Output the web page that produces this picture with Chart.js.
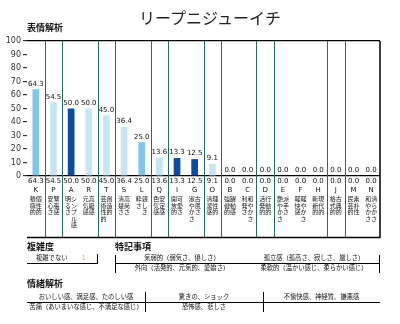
<!DOCTYPE html>
<html lang="ja">
<head>
<meta charset="utf-8">
<script src="https://cdn.jsdelivr.net/npm/chart.js@4.4.1/dist/chart.umd.min.js"></script>
<style>
  body { margin: 0; background: #fff; }
  #wrap { position: relative; width: 400px; height: 324px; overflow: hidden; font-family: "Noto Sans CJK JP", sans-serif; color: #111; }
  #chart { position: absolute; left: 0; top: 0; }
  .abs { position: absolute; white-space: nowrap; }
  .head { font-size: 9px; font-weight: bold; line-height: 12px; }
  .cell { position: absolute; text-align: center; font-size: 6.3px; line-height: 10px; white-space: nowrap; }
  .ln { position: absolute; background: #000; }
</style>
</head>
<body>
<div id="wrap">
  <canvas id="chart" width="400" height="324"></canvas>

  <div class="abs" style="left:120px;top:7px;width:180px;text-align:center;font-size:16px;line-height:20px;color:#222">リープニジューイチ</div>
  <div class="abs head" style="left:27px;top:22px">表情解析</div>

  <div class="abs head" style="left:27px;top:241px">複雑度</div>
  <div class="cell" style="left:36px;top:253px;text-align:left">複雑でない</div>
  <div class="cell" style="left:82px;top:253px;color:#e0a020">1</div>
  <div class="ln" style="left:27px;top:263px;width:71px;height:1px"></div>
  <div class="ln" style="left:97px;top:254px;width:1px;height:10px"></div>

  <div class="abs head" style="left:115px;top:241px">特記事項</div>
  <div class="ln" style="left:115px;top:255px;width:1px;height:18px"></div>
  <div class="ln" style="left:379px;top:255px;width:1px;height:18px"></div>
  <div class="ln" style="left:115px;top:263px;width:265px;height:1px"></div>
  <div class="cell" style="left:116px;top:253px;width:132px">気弱的（弱気さ、優しさ）</div>
  <div class="cell" style="left:248px;top:253px;width:132px">孤立感（孤高さ、寂しさ、厳しさ）</div>
  <div class="cell" style="left:116px;top:263px;width:132px">外向（活発的、元気的、愛嬌さ）</div>
  <div class="cell" style="left:248px;top:263px;width:132px">柔軟的（温かい感じ、柔らかい感じ）</div>

  <div class="abs head" style="left:27px;top:278px">情緒解析</div>
  <div class="ln" style="left:27px;top:302px;width:353px;height:1px"></div>
  <div class="ln" style="left:145px;top:292px;width:1px;height:20px"></div>
  <div class="ln" style="left:263px;top:292px;width:1px;height:20px"></div>
  <div class="cell" style="left:27px;top:292px;width:118px">おいしい感、満足感、たのしい感</div>
  <div class="cell" style="left:145px;top:292px;width:118px">驚きの、ショック</div>
  <div class="cell" style="left:263px;top:292px;width:117px">不愉快感、神経質、嫌悪感</div>
  <div class="cell" style="left:27px;top:302px;width:118px">苦痛（あいまいな感じ、不満足な感じ）</div>
  <div class="cell" style="left:145px;top:302px;width:118px">恐怖感、悲しさ</div>
</div>

<script>
// 表情解析 の値
const categories = ['K','P','A','R','T','S','L','Q','I','G','O','B','C','D','E','F','H','J','M','N'];
const scores = [64.3, 54.5, 50.0, 50.0, 45.0, 36.4, 25.0, 13.6, 13.3, 12.5, 9.1, 0, 0, 0, 0, 0, 0, 0, 0, 0];
const traits = [
  ['個性的', '積極的'], ['緊張感', '安心さ'], ['シンプル感', '明るさ'], ['高級感', '元気感'],
  ['創造的', '芸術性的'], ['高尚さ', '清楚さ'], ['親しさ', '粋さ'], ['安定感', '色気感'],
  ['可愛さ', '開放的'], ['古風さ', '淑やかさ'], ['理性的', '清潔感'], ['躍動感', '強健的'],
  ['和やかさ', '利発さ'], ['行動的', '活発的'], ['派手さ', '艶やかさ'], ['軽やかさ', '軽快感'],
  ['現代的', '斬新的'], ['古典的', '格式的'], ['素朴性', '民芸的'], ['清らかさ', '和やかさ']
];
const groups = [['K'], ['P'], ['A','R'], ['T'], ['S','L'], ['Q'], ['I','G'], ['O'], ['B','C'], ['D'], ['E','F','H'], ['J'], ['M','N']];
const yTicks = [0, 10, 20, 30, 40, 50, 60, 70, 80, 90, 100];

const MID = '#82c5ea', LIGHT = '#c8e5f4', DARK = '#0f4b9c';
const barColors = [MID, LIGHT, DARK, LIGHT, LIGHT, LIGHT, MID, LIGHT, DARK, DARK, LIGHT,
  LIGHT, LIGHT, LIGHT, LIGHT, LIGHT, LIGHT, LIGHT, LIGHT, LIGHT];
const TEAL = '#236b60';
const BOX_BOTTOM = 237;
const NUM_FONT = '7px "DejaVu Sans"';
const JP_FONT = '6px "Noto Sans CJK JP"';

const tablePlugin = {
  id: 'tablePlugin',
  beforeDatasetsDraw(chart) {
    const { ctx, chartArea: a, scales: { x } } = chart;
    ctx.save();
    ctx.strokeStyle = TEAL;
    ctx.lineWidth = 1;
    let idx = 0;
    groups.slice(0, -1).forEach(g => {
      idx += g.length;
      const xx = Math.round((x.getPixelForValue(idx - 1) + x.getPixelForValue(idx)) / 2) + 0.5;
      ctx.beginPath();
      ctx.moveTo(xx, a.top);
      ctx.lineTo(xx, BOX_BOTTOM);
      ctx.stroke();
    });
    ctx.restore();
  },
  afterDraw(chart) {
    const { ctx, chartArea: a, scales: { x } } = chart;
    ctx.save();
    ctx.strokeStyle = '#000';
    ctx.lineWidth = 1.5;
    ctx.beginPath();
    ctx.moveTo(a.right, a.top);
    ctx.lineTo(a.right, BOX_BOTTOM + 0.5);
    ctx.lineTo(a.left, BOX_BOTTOM + 0.5);
    ctx.stroke();

    const meta = chart.getDatasetMeta(0);
    ctx.fillStyle = '#111';
    ctx.textAlign = 'center';
    categories.forEach((c, i) => {
      const cx = x.getPixelForValue(i);
      const label = scores[i].toFixed(1);
      ctx.font = NUM_FONT;
      ctx.textBaseline = 'bottom';
      ctx.fillText(label, meta.data[i].x, meta.data[i].y - 2);
      ctx.textBaseline = 'middle';
      ctx.fillText(label, cx, a.bottom + 5);
      ctx.fillText(c, cx, a.bottom + 14);
      ctx.font = JP_FONT;
      ctx.textBaseline = 'top';
      traits[i].forEach((t, col) => {
        const colX = cx + (col === 0 ? 3 : -3);
        [...t].forEach((ch, k) => ctx.fillText(ch, colX, a.bottom + 20 + k * 6.5));
      });
    });
    ctx.restore();
  }
};

new Chart(document.getElementById('chart'), {
  type: 'bar',
  data: {
    labels: categories,
    datasets: [{
      data: scores,
      backgroundColor: barColors,
      borderWidth: 0,
      categoryPercentage: 1,
      barPercentage: 0.38
    }]
  },
  options: {
    responsive: false,
    animation: false,
    layout: { padding: { left: 0, right: 20, top: 41, bottom: 148 } },
    plugins: { legend: { display: false }, tooltip: { enabled: false }, title: { display: false } },
    scales: {
      x: { display: false },
      y: {
        min: 0, max: 100,
        afterFit: s => { s.width = 27; },
        afterBuildTicks: s => { s.ticks = yTicks.map(v => ({ value: v })); },
        border: { display: false },
        grid: {
          drawOnChartArea: true,
          color: c => (c.tick && (c.tick.value === 100 || c.tick.value === 0)) ? '#000' : 'transparent',
          lineWidth: 1.2,
          tickColor: '#333',
          tickLength: 4
        },
        ticks: { padding: 2, color: '#333', font: { family: 'DejaVu Sans', size: 8 } }
      }
    }
  },
  plugins: [tablePlugin]
});
</script>
</body>
</html>
